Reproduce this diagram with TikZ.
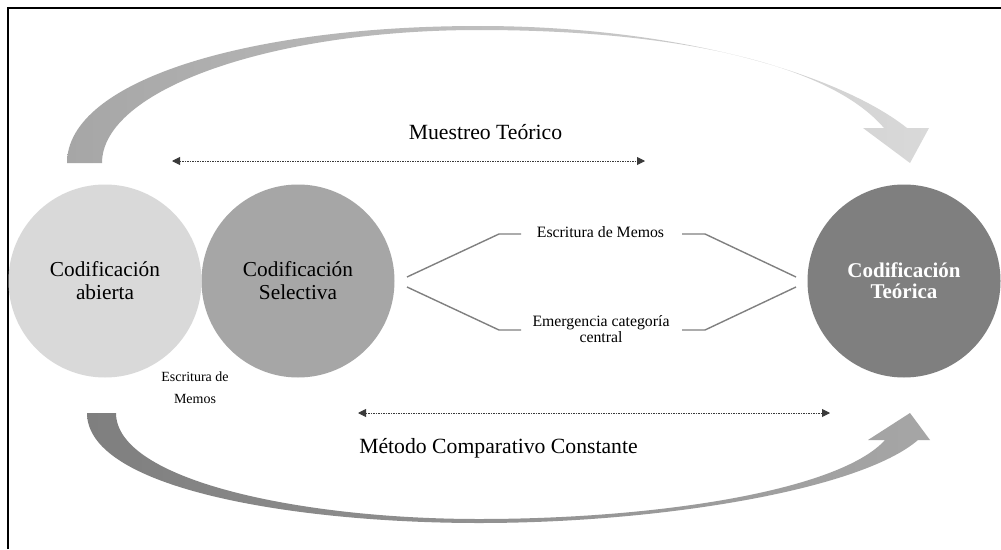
\documentclass[tikz,border=0pt]{standalone}
\usepackage{fontspec}
\setmainfont{Liberation Serif}
\usetikzlibrary{arrows.meta}
\definecolor{cLight}{HTML}{D9D9D9}
\definecolor{cMid}{HTML}{A6A6A6}
\definecolor{cDark}{HTML}{7F7F7F}
\definecolor{cLine}{HTML}{808080}
\definecolor{cArrow}{HTML}{3A3A3A}
\begin{document}
\begin{tikzpicture}[x=1pt,y=-1pt,
  bigcirc/.style={circle, minimum size=193pt, inner sep=0pt, align=center, font=\fontsize{21.3}{23}\selectfont},
  dottedarrow/.style={cArrow, line width=0.9pt, dash pattern=on 1.6pt off 0.9pt, {Triangle[length=8pt,width=8pt]}-{Triangle[length=8pt,width=8pt]}},
  linkline/.style={cLine, line width=1.4pt},
  midlabel/.style={font=\fontsize{15.8}{16}\selectfont, align=center, inner sep=0pt},
  biglabel/.style={font=\fontsize{21.7}{24}\selectfont, inner sep=0pt, anchor=base},
  smalllabel/.style={font=\fontsize{14}{22}\selectfont, align=center, inner sep=0pt}]

\useasboundingbox (0,0) rectangle (1001,549);
\fill[white] (0,0) rectangle (1001,549);

% frame
\draw[line width=2pt] (7.5,549) -- (7.5,7.5) -- (1001,7.5);

% top curved arrow
\shade[left color=cMid, right color=cLight]
  (67,163) .. controls (67,80) and (250,26) .. (479,26)
  .. controls (680,26) and (840,75) .. (907,128)
  -- (929,128) -- (910,163) -- (863,128) -- (884,128)
  .. controls (830,65) and (680,30) .. (479,30)
  .. controls (270,30) and (102,90) .. (102,163) -- cycle;

% bottom curved arrow
\shade[left color=cDark, right color=cMid]
  (87,413) .. controls (87,490) and (300,523) .. (479,523)
  .. controls (660,523) and (860,490) .. (918,440)
  -- (930,440) -- (910,413) -- (868,440) -- (885,440)
  .. controls (840,490) and (660,519) .. (479,519)
  .. controls (300,519) and (116,480) .. (116,413) -- cycle;

% circles
\node[bigcirc, fill=cLight] (abierta) at (105,281) {Codificación\\abierta};
\node[bigcirc, fill=cMid] (selectiva) at (298,281) {Codificación\\Selectiva};
\node[bigcirc, fill=cDark, text=white, font=\bfseries\fontsize{21}{21}\selectfont] (teorica) at (904,281) {Codificación\\Teórica};

% labels
\node[biglabel] (muestreo) at (485.5,139) {Muestreo Teórico};
\node[biglabel] (metodo) at (498.5,453) {Método Comparativo Constante};
\node[smalllabel] (memosleft) at (195,388) {Escritura de\\Memos};
\node[midlabel, anchor=base] (escr) at (600.5,237) {Escritura de Memos};
\node[midlabel] (emerg) at (601,329) {Emergencia categoría\\central};

% dotted double arrows
\coordinate (mtL) at (172,161);
\coordinate (mtR) at (645,161);
\draw[dottedarrow] (mtL) -- (mtR);
\coordinate (mcL) at (358,413);
\coordinate (mcR) at (830,413);
\draw[dottedarrow] (mcL) -- (mcR);

% connector lines
\coordinate (uL1) at (407,277);
\coordinate (uL2) at (499,234);
\coordinate (uL3) at (521,234);
\coordinate (uR1) at (682,234);
\coordinate (uR2) at (705,234);
\coordinate (uR3) at (796,277);
\coordinate (lL1) at (407,287);
\coordinate (lL2) at (499,330);
\coordinate (lL3) at (521,330);
\coordinate (lR1) at (682,330);
\coordinate (lR2) at (705,330);
\coordinate (lR3) at (796,287);
\draw[linkline] (uL1) -- (uL2) -- (uL3);
\draw[linkline] (uR1) -- (uR2) -- (uR3);
\draw[linkline] (lL1) -- (lL2) -- (lL3);
\draw[linkline] (lR1) -- (lR2) -- (lR3);
\end{tikzpicture}
\end{document}
